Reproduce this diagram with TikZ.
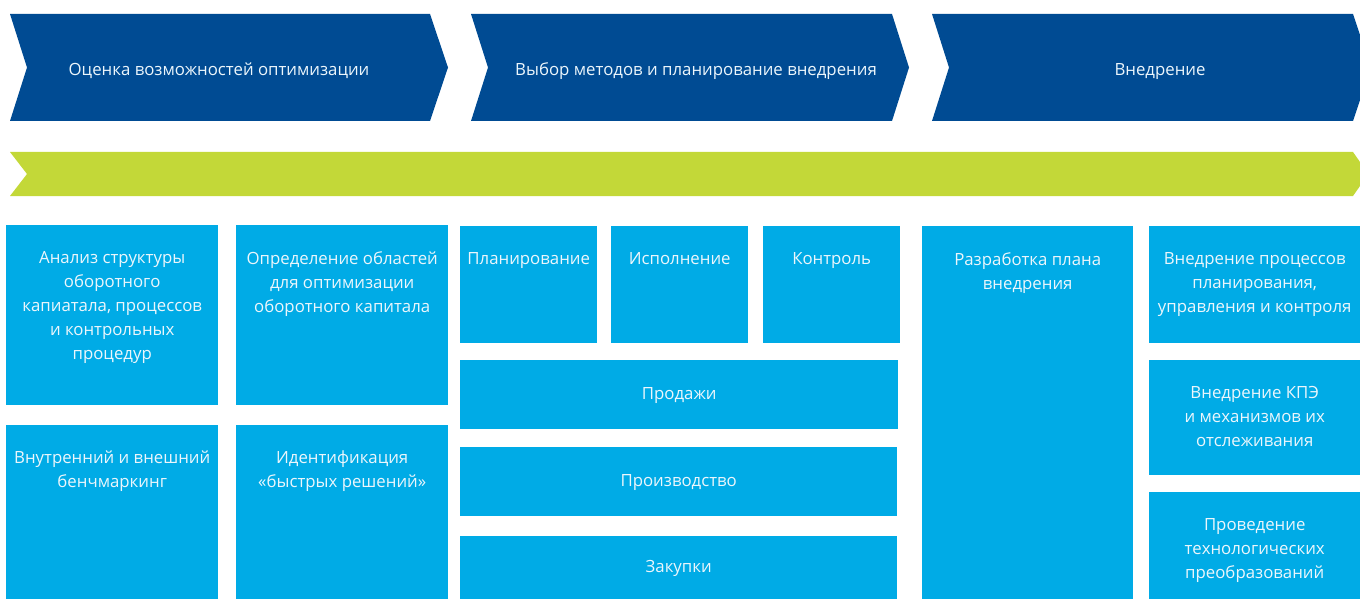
\documentclass[tikz,border=0pt]{standalone}
\usepackage{fontspec}
\setmainfont{Open Sans}
\definecolor{dblue}{RGB}{0,75,147}
\definecolor{lblue}{RGB}{0,171,230}
\definecolor{lgreen}{RGB}{195,216,56}
\definecolor{txtw}{RGB}{236,246,252}
\tikzset{
  chev/.style={fill=dblue, draw=none},
  band/.style={fill=lgreen, draw=none},
  tile/.style={fill=lblue, draw=none, inner sep=0pt, anchor=north west},
  lbl/.style={text=txtw, align=center, inner sep=0pt, anchor=north,
    font=\fontsize{16.8}{24}\selectfont},
  htxt/.style={text=txtw, inner sep=0pt, anchor=base,
    font=\fontsize{16.8}{24}\selectfont}
}
\newcommand\tileat[6]{%
  \node[tile, minimum width=#4-#2, minimum height=#5-#3] (#1) at (#2,#3) {};
  \node[lbl] (#1t) at ([yshift=-26pt]#1.north) {#6};
}
\begin{document}
\begin{tikzpicture}[x=1pt,y=-1pt]
\useasboundingbox (0,0) rectangle (1360,599);
% chevrons
\path[chev] (10,14) -- (430,14) -- (448,67.5) -- (430,121) -- (10,121) -- (27,67.5) -- cycle;
\path[chev] (471,14) -- (892,14) -- (909,67.5) -- (892,121) -- (471,121) -- (488,67.5) -- cycle;
\path[chev] (932,14) -- (1353,14) -- (1360,35) -- (1360,100) -- (1353,121) -- (932,121) -- (949,67.5) -- cycle;
\node[htxt] (h1) at (219,76) {Оценка возможностей оптимизации};
\node[htxt] (h2) at (696,76) {Выбор методов и планирование внедрения};
\node[htxt] (h3) at (1160,76) {Внедрение};
% green band
\path[band] (10,152) -- (1353,152) -- (1360,162) -- (1360,186) -- (1353,196) -- (10,196) -- (27,174) -- cycle;
% tiles
\tileat{a1}{6}{225}{218}{405}{Анализ структуры\\оборотного\\капиатала, процессов\\и контрольных\\процедур}
\tileat{a2}{236}{225}{448}{405}{Определение областей\\для оптимизации\\оборотного капитала}
\tileat{b1}{6}{425}{218}{599}{Внутренний и внешний\\бенчмаркинг}
\tileat{b2}{236}{425}{448}{599}{Идентификация\\«быстрых решений»}
\tileat{p1}{460}{226}{597}{343}{Планирование}
\tileat{p2}{611}{226}{748}{343}{Исполнение}
\tileat{p3}{763}{226}{900}{343}{Контроль}
\node[tile, minimum width=438, minimum height=69] (s1) at (460,360) {};
\node[htxt] (s1t) at ([yshift=-5pt]s1.center) {Продажи};
\node[tile, minimum width=437, minimum height=69] (s2) at (460,447) {};
\node[htxt] (s2t) at ([yshift=-5pt]s2.center) {Производство};
\node[tile, minimum width=437, minimum height=63] (s3) at (460,536) {};
\node[htxt] (s3t) at ([yshift=-5pt]s3.center) {Закупки};
\tileat{r0}{922}{226}{1133}{599}{Разработка плана\\внедрения}
\tileat{r1}{1149}{226}{1360}{343}{Внедрение процессов\\планирования,\\управления и контроля}
\tileat{r2}{1149}{360}{1360}{475}{Внедрение КПЭ\\и механизмов их\\отслеживания}
\tileat{r3}{1149}{492}{1360}{599}{Проведение\\технологических\\преобразований}
\end{tikzpicture}
\end{document}
